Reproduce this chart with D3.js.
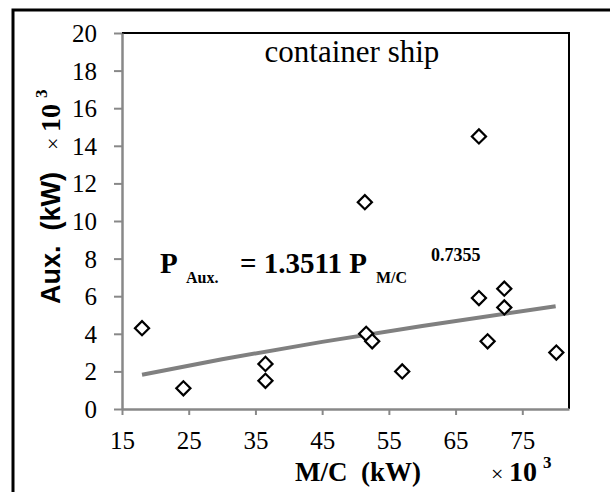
<!DOCTYPE html>
<html lang="en">
<head>
<meta charset="UTF-8">
<title>container ship</title>
<script src="https://d3js.org/d3.v7.min.js"></script>
<style>
  body { margin: 0; background: #fff; }
  .serif { font-family: "Liberation Serif", "Times New Roman", Tinos, "DejaVu Serif", serif; }
</style>
</head>
<body>
<svg id="chart"></svg>
<script>
// data (x: M/C kW x10^3, y: Aux. kW x10^3)
const mcPower  = [18, 24.2, 36.5, 36.5, 51.4, 51.6, 52.5, 57, 68.5, 68.5, 69.8, 72.3, 72.3, 80.1];
const auxPower = [4.3, 1.1, 2.4, 1.5, 11.0, 4.0, 3.6, 2.0, 14.5, 5.9, 3.6, 6.4, 5.4, 3.0];
// power trend line, read at a few points
const trendX = [18, 30, 45, 60, 80];
const trendY = [1.82, 2.65, 3.57, 4.42, 5.46];
const xTicks = [15, 25, 35, 45, 55, 65, 75];
const yTicks = [0, 2, 4, 6, 8, 10, 12, 14, 16, 18, 20];

const width = 610, height = 492;
const margin = {left: 122, top: 33, right: 41, bottom: 83};

const svg = d3.select("#chart").attr("width", width).attr("height", height);

// outer frame
svg.append("rect")
  .attr("x", 13).attr("y", 10).attr("width", 700).attr("height", 600)
  .attr("fill", "none").attr("stroke", "#000").attr("stroke-width", 3);

const x = d3.scaleLinear().domain([15, 82]).range([margin.left, width - margin.right]);
const y = d3.scaleLinear().domain([0, 20]).range([height - margin.bottom, margin.top]);

// plot border (top + right black)
svg.append("path")
  .attr("d", `M${x(15)},${y(20)}H${x(82)}V${y(0)}`)
  .attr("fill", "none").attr("stroke", "#000").attr("stroke-width", 2);

const gx = svg.append("g").attr("transform", `translate(0,${y(0)})`)
  .call(d3.axisBottom(x).tickValues(xTicks).tickSize(6).tickSizeOuter(0).tickPadding(16));
const gy = svg.append("g").attr("transform", `translate(${x(15)},0)`)
  .call(d3.axisLeft(y).tickValues(yTicks).tickSize(8).tickSizeOuter(0).tickPadding(17));

[gx, gy].forEach(g => {
  g.attr("font-family", null).attr("font-size", null);
  g.select(".domain").attr("stroke", "#888").attr("stroke-width", 2.5);
  g.selectAll(".tick line").attr("stroke", "#888").attr("stroke-width", 2);
  g.selectAll(".tick text").attr("class", "serif").style("font-size", "25px").attr("fill", "#000");
});
gy.selectAll(".tick text").attr("dy", "0.34em");

// trend line
svg.append("path")
  .datum(d3.zip(trendX, trendY))
  .attr("d", d3.line().x(d => x(d[0])).y(d => y(d[1])))
  .attr("fill", "none").attr("stroke", "#808080").attr("stroke-width", 4);

// markers
svg.append("g").selectAll("path")
  .data(d3.zip(mcPower, auxPower))
  .join("path")
  .attr("d", d3.symbol(d3.symbolSquare, 100))
  .attr("transform", d => `translate(${x(d[0])},${y(d[1])}) rotate(45)`)
  .attr("fill", "#fff").attr("stroke", "#000").attr("stroke-width", 2.2);

// title
svg.append("text").attr("class", "serif").attr("x", 352).attr("y", 62).attr("text-anchor", "middle")
  .style("font-size", "31px").text("container ship");

// equation
const eq = svg.append("text").attr("class", "serif").attr("y", 273)
  .style("font-weight", "bold").style("font-size", "29px");
eq.append("tspan").attr("x", 160).text("P");
eq.append("tspan").attr("x", 186).attr("y", 283).style("font-size", "16px").text("Aux.");
eq.append("tspan").attr("x", 240).attr("y", 273).text("= 1.3511 P");
eq.append("tspan").attr("x", 376).attr("y", 283).style("font-size", "16px").text("M/C");
eq.append("tspan").attr("x", 431).attr("y", 261).style("font-size", "18px").text("0.7355");

// x title
const xt = svg.append("text").attr("class", "serif").attr("x", 295).attr("y", 481)
  .style("font-weight", "bold").style("font-size", "27px");
xt.append("tspan").text("M/C\u00a0\u00a0(kW)");
xt.append("tspan").attr("x", 491).style("font-weight", "normal").style("font-size", "22px").text("×\u00a0");
xt.append("tspan").style("font-size", "28px").text("10");
xt.append("tspan").style("font-size", "17px").attr("dy", -13).attr("dx", 6).text("3");

// y title
const yt = svg.append("text").attr("class", "serif").attr("transform", "translate(60,304) rotate(-90)");
yt.append("tspan").style("font-family", '"Liberation Sans", Arial, sans-serif').style("font-weight", "bold")
  .style("font-size", "27px").text("Aux.\u00a0\u00a0(kW)");
yt.append("tspan").attr("dx", 22).style("font-size", "22px").text("×\u00a0");
yt.append("tspan").style("font-weight", "bold").style("font-size", "28px").text("10");
yt.append("tspan").style("font-weight", "bold").style("font-size", "17px").attr("dy", -13).attr("dx", 6).text("3");
</script>
</body>
</html>
